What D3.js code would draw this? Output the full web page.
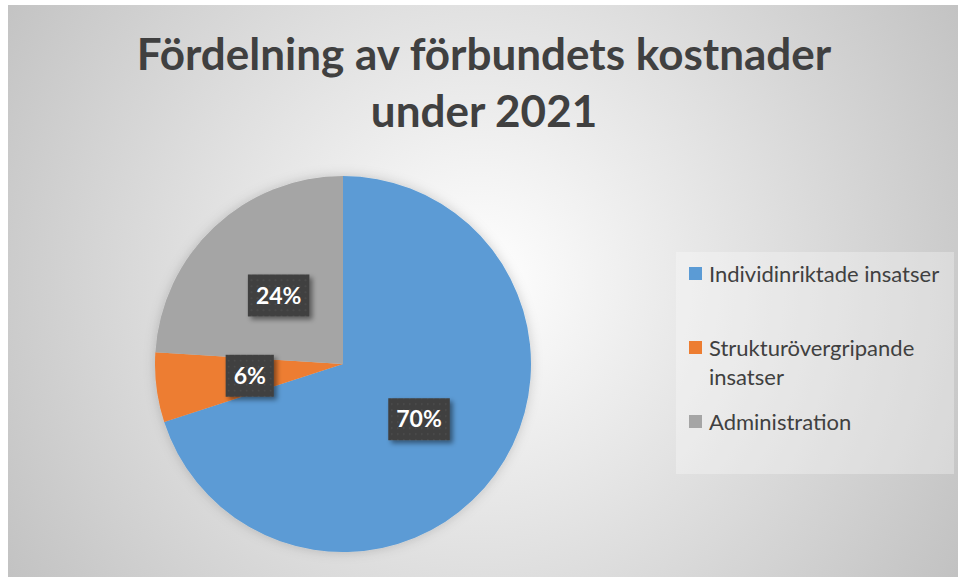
<!DOCTYPE html>
<html>
<head>
<meta charset="utf-8">
<script src="https://cdn.jsdelivr.net/npm/d3@7"></script>
<style>
  body { margin: 0; background: #fff; }
  svg { display: block; }
</style>
</head>
<body>
<div id="chart"></div>
<script>
// Data
const categories = ["Individinriktade insatser", "Strukturövergripande insatser", "Administration"];
const values = [70, 6, 24];
const colors = ["#5b9bd5", "#ed7d31", "#a5a5a5"];
const legendLines = [["Individinriktade insatser"], ["Strukturövergripande", "insatser"], ["Administration"]];
const titleLines = ["Fördelning av förbundets kostnader", "under 2021"];

const width = 958;
const height = 577;

const svg = d3.select("#chart")
    .append("svg")
    .attr("width", width)
    .attr("height", height);

const defs = svg.append("defs");

// background gradient (white centre, grey edges)
const grad = defs.append("radialGradient")
    .attr("id", "bg")
    .attr("gradientUnits", "userSpaceOnUse")
    .attr("cx", 480).attr("cy", 280).attr("r", 560);
grad.append("stop").attr("offset", "0%").attr("stop-color", "#ffffff");
grad.append("stop").attr("offset", "100%").attr("stop-color", "#c2c2c2");

// dotted pattern for the label boxes
const pat = defs.append("pattern")
    .attr("id", "dots")
    .attr("width", 6).attr("height", 6)
    .attr("patternUnits", "userSpaceOnUse");
pat.append("rect").attr("width", 6).attr("height", 6).attr("fill", "#404040");
pat.append("rect").attr("x", 2).attr("y", 2).attr("width", 1.5).attr("height", 1.5).attr("fill", "#4e4e4e");

const shadow = defs.append("filter").attr("id", "shadow")
    .attr("x", "-30%").attr("y", "-30%").attr("width", "170%").attr("height", "170%");
shadow.append("feDropShadow")
    .attr("dx", 3).attr("dy", 3).attr("stdDeviation", 2.5)
    .attr("flood-color", "#000").attr("flood-opacity", 0.45);

const pieShadow = defs.append("filter").attr("id", "pieShadow")
    .attr("x", "-20%").attr("y", "-20%").attr("width", "140%").attr("height", "140%");
pieShadow.append("feDropShadow")
    .attr("dx", 0).attr("dy", 0).attr("stdDeviation", 6)
    .attr("flood-color", "#000").attr("flood-opacity", 0.18);

svg.append("rect")
    .attr("x", 8).attr("y", 5)
    .attr("width", width - 8).attr("height", height - 5)
    .attr("fill", "url(#bg)");

// Title
svg.append("g")
    .selectAll("text")
    .data(titleLines)
    .enter().append("text")
    .attr("x", 484)
    .attr("y", (d, i) => 70 + i * 57)
    .attr("text-anchor", "middle")
    .attr("font-family", "Lato, 'Open Sans', sans-serif")
    .attr("font-weight", "bold")
    .attr("font-size", 44)
    .attr("fill", "#404040")
    .text(d => d);

// Pie
const cx = 343, cy = 364, r = 188;

const pie = d3.pie().sort(null).value(d => d);
const arcs = pie(values);
const arc = d3.arc().innerRadius(0).outerRadius(r);

const pieG = svg.append("g")
    .attr("transform", `translate(${cx},${cy})`);

pieG.append("g")
    .attr("filter", "url(#pieShadow)")
    .selectAll("path")
    .data(arcs)
    .enter().append("path")
    .attr("d", arc)
    .attr("fill", (d, i) => colors[i]);

// Data labels
const total = d3.sum(values);
const labels = pieG.append("g")
    .selectAll("g")
    .data(arcs)
    .enter().append("g")
    .attr("transform", d => `translate(${arc.centroid(d)})`);

labels.each(function(d) {
    const g = d3.select(this);
    const txt = Math.round(d.data / total * 100) + "%";
    const t = g.append("text")
        .attr("text-anchor", "middle")
        .attr("dy", "0.35em")
        .attr("font-family", "Lato, 'Open Sans', sans-serif")
        .attr("font-weight", "bold")
        .attr("font-size", 23)
        .attr("fill", "#ffffff")
        .text(txt);
    const w = t.node().getComputedTextLength() + 16;
    g.insert("rect", "text")
        .attr("x", -w / 2).attr("y", -21)
        .attr("width", w).attr("height", 42)
        .attr("fill", "url(#dots)")
        .attr("filter", "url(#shadow)");
});

// Legend
const legend = svg.append("g");
legend.append("rect")
    .attr("x", 676).attr("y", 252)
    .attr("width", 278).attr("height", 222)
    .attr("fill", "#ffffff").attr("fill-opacity", 0.3);

const legendY = [274, 348, 422];
const items = legend.selectAll("g")
    .data(categories)
    .enter().append("g")
    .attr("transform", (d, i) => `translate(689,${legendY[i]})`);

items.append("rect")
    .attr("x", 0).attr("y", -7)
    .attr("width", 13).attr("height", 13)
    .attr("fill", (d, i) => colors[i]);

items.each(function(d, i) {
    d3.select(this).selectAll("text")
        .data(legendLines[i])
        .enter().append("text")
        .attr("x", 20)
        .attr("y", (l, j) => j * 29)
        .attr("dy", "0.35em")
        .attr("font-family", "Lato, 'Open Sans', sans-serif")
        .attr("font-size", 22)
        .attr("fill", "#404040")
        .text(l => l);
});
</script>
</body>
</html>
